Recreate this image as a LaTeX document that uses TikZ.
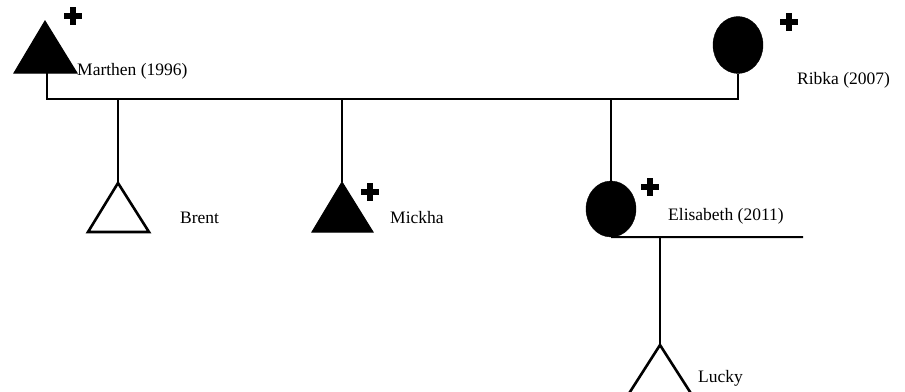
\documentclass[tikz,border=0pt]{standalone}
\usepackage{fontspec}
\setmainfont{Liberation Serif}
\usetikzlibrary{shapes.geometric}
\begin{document}
\begin{tikzpicture}[x=1pt,y=-1pt,
  conn/.style={line width=1.1pt},
  person/.style={ellipse,fill=black,draw=black,minimum width=50pt,minimum height=57pt,inner sep=0pt},
  tri/.style={fill=black,draw=black,line width=1pt,line join=miter},
  otri/.style={draw=black,line width=2.6pt,line join=miter},
  lbl/.style={anchor=west,inner sep=0pt,font=\fontsize{17.5}{20}\selectfont}]
\useasboundingbox (0,0) rectangle (905,391);
% Marthen
\coordinate (mA) at (45,21);
\coordinate (mB) at (47,73);
\draw[tri] (mA) -- (14,73) -- (77,73) -- cycle;
\fill (64,13) rectangle (82,19); \fill (70,7) rectangle (76,25);
\node[lbl] (mlab) at (77,71) {Marthen (1996)};
% Ribka
\node[person] (ribka) at (738,45) {};
\fill (780,19) rectangle (798,25); \fill (786,13) rectangle (792,31);
\node[lbl] (rlab) at (797,80) {Ribka (2007)};
% marriage line
\coordinate (mline) at (47,99);
\coordinate (rline) at (738,99);
\draw[conn] (mB) -- (mline) -- (rline) -- (ribka.south);
% Brent
\coordinate (bTop) at (118,99);
\coordinate (bA) at (118,183);
\draw[conn] (bTop) -- (bA);
\draw[otri] (bA) -- (88,232) -- (149,232) -- cycle;
\node[lbl] (blab) at (180,218) {Brent};
% Mickha
\coordinate (kTop) at (342,99);
\coordinate (kA) at (342,182);
\draw[conn] (kTop) -- (kA);
\draw[tri] (kA) -- (312,232) -- (373,232) -- cycle;
\fill (361,189) rectangle (379,195); \fill (367,183) rectangle (373,201);
\node[lbl] (klab) at (390,218) {Mickha};
% Elisabeth
\coordinate (eTop) at (611,99);
\node[person,minimum height=56pt] (elis) at (611,209) {};
\draw[conn] (eTop) -- (elis.north);
\fill (641,184) rectangle (659,190); \fill (647,178) rectangle (653,196);
\node[lbl] (elab) at (668,216) {Elisabeth (2011)};
\coordinate (eEnd) at (803,237);
\draw[line width=2pt] (elis.south) -- (eEnd);
% Lucky
\coordinate (lTop) at (660,237);
\coordinate (lA) at (660,345);
\draw[conn] (lTop) -- (lA);
\draw[otri] (628,395) -- (lA) -- (692,395);
\node[lbl] (llab) at (698,378) {Lucky};
\end{tikzpicture}
\end{document}
